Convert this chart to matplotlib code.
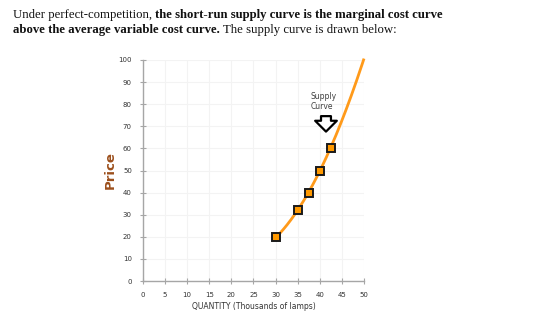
import numpy as np
import matplotlib
matplotlib.use("Agg")
import matplotlib.pyplot as plt

# data
quantity = [30, 35, 37.5, 40, 42.5]
price = [20, 32, 40, 50, 60]
curve_q = [29.3, 30, 35, 37.5, 40, 42.7, 44.3, 46.2, 48.2, 50]
curve_p = [18, 20, 32, 40, 50, 60, 70, 80, 90, 100]
x_ticks = [0, 5, 10, 15, 20, 25, 30, 35, 40, 45, 50]
y_ticks = [0, 10, 20, 30, 40, 50, 60, 70, 80, 90, 100]

fig = plt.figure(figsize=(5.6, 3.18), dpi=100)
fig.patch.set_facecolor("white")

# Title with mixed weights
serif = "Liberation Serif"
fs = 9.2
lines = [
    [("Under perfect-competition, ", "normal"),
     ("the short-run supply curve is the marginal cost curve", "bold")],
    [("above the average variable cost curve.", "bold"),
     (" The supply curve is drawn below:", "normal")],
]
renderer = fig.canvas.get_renderer()
y_pos = [1 - 18 / 318, 1 - 33 / 318]
for line, yp in zip(lines, y_pos):
    x = 13 / 560
    for txt, w in line:
        t = fig.text(x, yp, txt, fontsize=fs, family=serif, weight=w,
                     color="#111111", va="baseline", ha="left")
        bb = t.get_window_extent(renderer=renderer)
        x += bb.width / fig.bbox.width

ax = fig.add_axes([143 / 560, 37 / 318, 221 / 560, 221 / 318])
ax.set_xlim(0, 50)
ax.set_ylim(0, 100)

# faint grid
ax.set_xticks(x_ticks)
ax.set_yticks(y_ticks)
ax.grid(True, color="#f3f3f3", lw=0.8)
ax.set_axisbelow(True)

# smooth curve
coef = np.polyfit(curve_q, curve_p, 2)
qq = np.linspace(curve_q[0], curve_q[-1], 200)
ax.plot(qq, np.polyval(coef, qq), color="#FF9A1A", lw=2.0, clip_on=False,
        solid_capstyle="butt", zorder=3)
ax.plot(quantity, price, linestyle="none", marker="s", markersize=5.4,
        markerfacecolor="#FF9900", markeredgecolor="#1a1a1a", markeredgewidth=1.4,
        zorder=4)

for s in ["top", "right"]:
    ax.spines[s].set_visible(False)
for s in ["left", "bottom"]:
    ax.spines[s].set_color("#a6a6a6")
    ax.spines[s].set_linewidth(1.0)
ax.tick_params(axis="both", direction="inout", length=4, width=0.8,
               color="#a6a6a6", labelsize=5, labelcolor="#333333")
ax.tick_params(axis="x", pad=6)
ax.tick_params(axis="y", pad=6)

ax.set_xlabel("QUANTITY (Thousands of lamps)", fontsize=5.5, color="#333333",
              labelpad=3)
ax.set_ylabel("Price", fontsize=9.5, color="#9C4F1C", labelpad=1,
              weight="bold")

ax.text(38.0, 85.5, "Supply\nCurve", fontsize=5.5, color="#404040",
        ha="left", va="top", linespacing=1.15)
ax.annotate("", xy=(41.4, 67.6), xytext=(41.4, 74.6),
            arrowprops=dict(arrowstyle="simple,head_width=1.2,head_length=0.6,tail_width=0.55",
                            mutation_scale=13, fc="white", ec="black", lw=1.6,
                            shrinkA=0, shrinkB=0))

fig.savefig("out.png", dpi=100)
